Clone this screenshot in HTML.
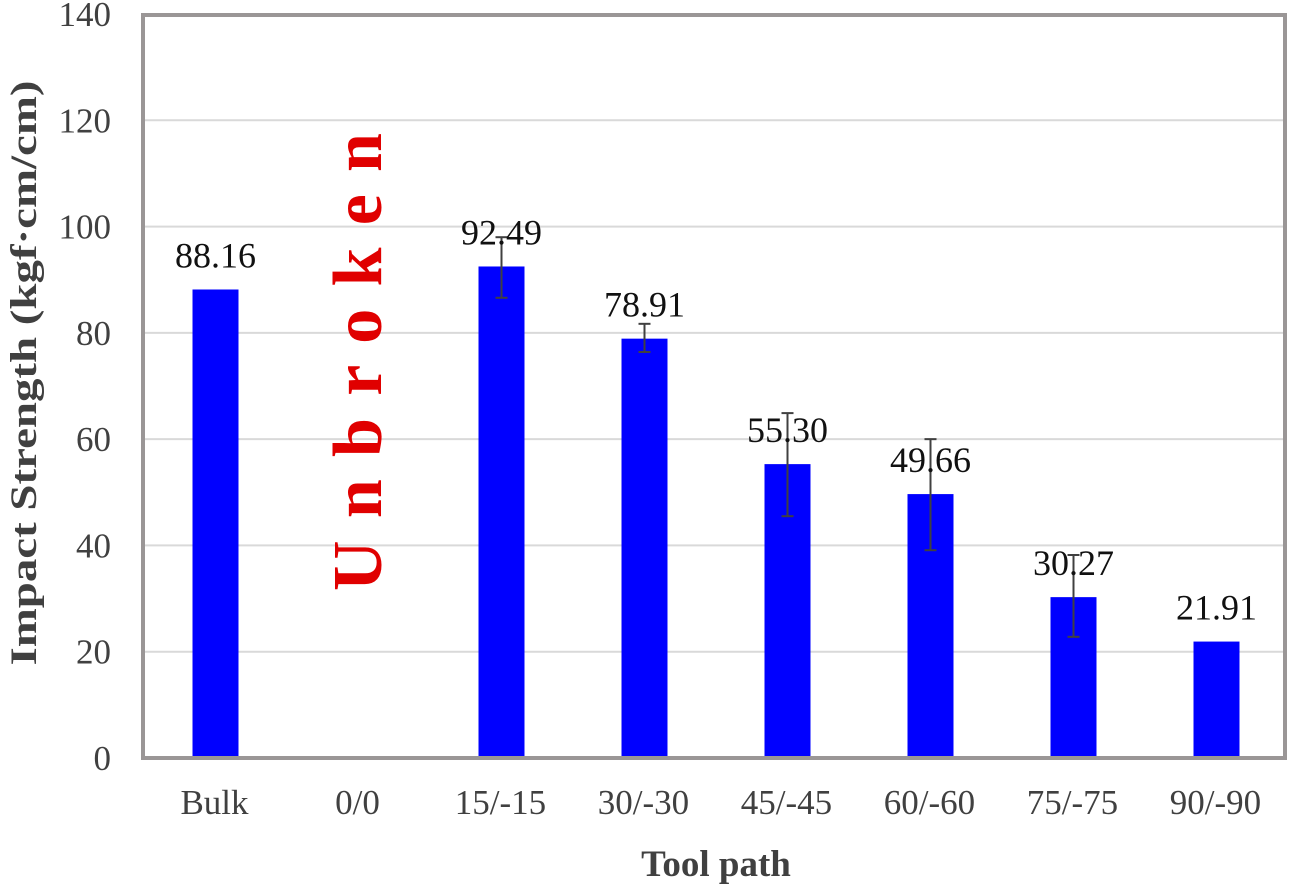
<!DOCTYPE html>
<html><head><meta charset="utf-8"><style>
body{margin:0;background:#fff}
svg text{font-family:"Liberation Serif",serif}
</style></head><body>
<svg id="chart" width="1291" height="888" viewBox="0 0 1291 888">
<g id="grid"></g>
<g id="bars"></g>
<rect x="143" y="15" width="1142" height="743" fill="none" stroke="#9a9696" stroke-width="4"/>
<text x="0" y="0" transform="translate(381,362) rotate(-90)" text-anchor="middle" font-size="70" font-weight="bold" fill="#e00000" textLength="458" lengthAdjust="spacing">Unbroken</text>
<text x="0" y="0" transform="translate(36,373) rotate(-90)" text-anchor="middle" font-size="37" font-weight="bold" fill="#404040" textLength="585" lengthAdjust="spacingAndGlyphs">Impact  Strength (kgf·cm/cm)</text>
<text x="716" y="876" text-anchor="middle" font-size="37" font-weight="bold" fill="#404040">Tool path</text>
</svg>
<script>
const categories=["Bulk","0/0","15/-15","30/-30","45/-45","60/-60","75/-75","90/-90"];
const values=[88.16,null,92.49,78.91,55.30,49.66,30.27,21.91];
const labels=["88.16","","92.49","78.91","55.30","49.66","30.27","21.91"];
const errLow=[null,null,86.6,76.4,45.5,39.1,22.8,null];
const errHigh=[null,null,98.0,81.7,64.9,60.0,38.2,null];
const yTicks=[0,20,40,60,80,100,120,140];
const NS="http://www.w3.org/2000/svg";
const x0=143,x1=1287,yBase=758,yTop=14;
const y=v=>yBase-(v/140)*(yBase-yTop);
const bw=(x1-x0)/categories.length;
const cx=i=>x0+bw*(i+0.5);
function mk(t,a,p){const e=document.createElementNS(NS,t);for(const k in a)e.setAttribute(k,a[k]);p.appendChild(e);return e;}
const grid=document.getElementById('grid'),bars=document.getElementById('bars');
yTicks.forEach(t=>{
 if(t>0&&t<140){const l=mk('line',{x1:x0,x2:x1,y1:y(t),y2:y(t),stroke:'#d9d9d9','stroke-width':2},grid);
 
 }
 const tx=mk('text',{x:111,y:y(t)+12,'text-anchor':'end','font-size':35,fill:'#404040'},grid);tx.textContent=t;
 
 
});
categories.forEach((c,i)=>{
 const tx=mk('text',{x:cx(i),y:814,'text-anchor':'middle','font-size':35,fill:'#404040'},grid);tx.textContent=c;
 
 
 if(values[i]==null)return;
 const r=mk('rect',{x:cx(i)-22,y:y(values[i]),width:46,height:yBase-y(values[i]),fill:'#0000ff'},bars);
 
 
 if(errLow[i]!=null){
  const g=mk('g',{stroke:'#404040','stroke-width':2},bars);
  
  
  mk('line',{x1:cx(i)+1,x2:cx(i)+1,y1:y(errLow[i]),y2:y(errHigh[i])},g);
  mk('line',{x1:cx(i)-5,x2:cx(i)+7,y1:y(errLow[i]),y2:y(errLow[i])},g);
  mk('line',{x1:cx(i)-5,x2:cx(i)+7,y1:y(errHigh[i]),y2:y(errHigh[i])},g);
 }
 const lb=mk('text',{x:cx(i)+1,y:y(values[i])-22,'text-anchor':'middle','font-size':36,fill:'#111'},bars);lb.textContent=labels[i];
 
 
});
</script>
</body></html>
